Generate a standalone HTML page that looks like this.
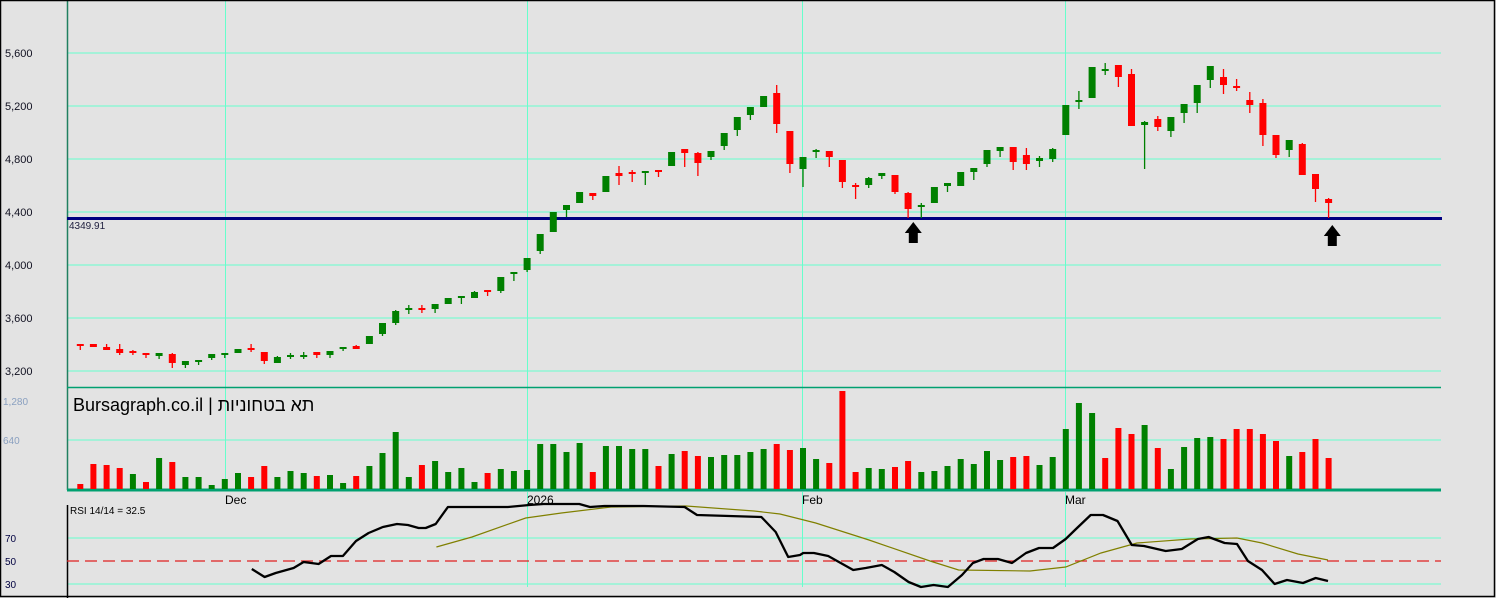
<!DOCTYPE html>
<html><head><meta charset="utf-8"><style>
html,body{margin:0;padding:0;background:#e3e3e3;}
svg{display:block;}
text{font-family:"Liberation Sans",Arial,sans-serif;}
</style></head><body>
<svg width="1496" height="598" viewBox="0 0 1496 598" xmlns="http://www.w3.org/2000/svg">
<rect x="0" y="0" width="1496" height="598" fill="#e3e3e3"/>
<!-- gridlines -->
<g stroke="#66ffcc" stroke-width="1">
<path d="M67 53H1441M67 106H1441M67 159H1441M67 212H1441M67 265H1441M67 318H1441M67 371H1441"/>
<path d="M67 440H1441M67 538H1441M67 584H1441"/>
<path d="M225.5 0V387M527.5 0V387M802.5 0V387M1065.5 0V387"/>
<path d="M225.5 387V489M527.5 387V489M802.5 387V489M1065.5 387V489"/>
<path d="M527.5 492V587M802.5 492V587M1065.5 492V587"/>
</g>
<!-- axes/borders -->
<path d="M67.5 0V490" stroke="#208060" stroke-width="1.5"/>
<path d="M67 387.5H1441" stroke="#00a070" stroke-width="1.5"/>
<path d="M67 490H1441" stroke="#00a070" stroke-width="3"/>
<path d="M67.5 505V598" stroke="#000" stroke-width="1.5"/>
<rect x="0.5" y="0.5" width="1494" height="596" fill="none" stroke="#000" stroke-width="1.5"/>
<!-- support line -->
<path d="M67 218.5H1442" stroke="#000080" stroke-width="3"/>
<text x="69" y="229" font-size="10" fill="#202040">4349.91</text>
<!-- price labels -->
<g font-size="11" fill="#101020">
<text x="5" y="57">5,600</text><text x="5" y="110">5,200</text><text x="5" y="163">4,800</text>
<text x="5" y="216">4,400</text><text x="5" y="269">4,000</text><text x="5" y="322">3,600</text><text x="5" y="375">3,200</text>
</g>
<!-- candles -->
<path stroke="#008000" stroke-width="1.3" fill="none" d="M159.1 353V359 M185.4 361V368 M198.6 360V365 M211.7 354V360 M224.8 353V358 M238 349V353 M277.4 356V363 M290.5 353V359 M303.7 352V359 M330 351V358 M343.1 347V351 M369.4 336V344 M382.5 323V336 M395.7 310V325 M408.8 305V314 M435.1 304V313 M448.2 298V304 M461.4 296V304 M474.5 291V298 M500.8 277V293 M513.9 272V281 M527.1 258V272 M540.2 234V254 M553.3 212V232 M566.5 205V217 M579.6 192V203 M605.9 176V192 M645.3 171V185 M671.6 152V166 M711 151V160 M724.2 133V150 M737.3 117V136 M750.4 107V120 M763.6 96V107 M803 157V187 M816.1 149V158 M868.7 177V188 M881.8 173V179 M921.3 203V218 M934.4 187V203 M947.5 183V192 M960.7 172V186 M973.8 168V180 M987 150V167 M1000.1 147V157 M1039.5 156V167 M1052.7 148V162 M1065.8 105V135 M1078.9 91V109 M1092.1 67V98 M1105.2 63V75 M1144.6 121V169 M1170.9 117V137 M1184.1 104V123 M1197.2 85V113 M1210.3 66V88 M1289.2 140V157"/>
<path fill="#008000" d="M155.6 353h7V356h-7zM181.9 361h7V365h-7zM195.1 360h7V362h-7zM208.2 354h7V358h-7zM221.3 353h7V355h-7zM234.5 349h7V353h-7zM273.9 357h7V363h-7zM287 355h7V357h-7zM300.2 355h7V357h-7zM326.5 351h7V355h-7zM339.6 347h7V349h-7zM365.9 336h7V344h-7zM379 323h7V334h-7zM392.2 311h7V323h-7zM405.3 308h7V310h-7zM431.6 304h7V309h-7zM444.7 298h7V304h-7zM457.9 296h7V298h-7zM471 292h7V298h-7zM497.3 277h7V291h-7zM510.4 272h7V274h-7zM523.6 258h7V270h-7zM536.7 234h7V251h-7zM549.8 212h7V232h-7zM563 205h7V210h-7zM576.1 192h7V203h-7zM602.4 176h7V192h-7zM641.8 171h7V173h-7zM668.1 152h7V166h-7zM707.5 151h7V157h-7zM720.7 133h7V146h-7zM733.8 117h7V130h-7zM746.9 107h7V115h-7zM760.1 96h7V107h-7zM799.5 157h7V169h-7zM812.6 150h7V152h-7zM865.2 178h7V185h-7zM878.3 173h7V176h-7zM917.8 205h7V207h-7zM930.9 187h7V203h-7zM944 183h7V186h-7zM957.2 172h7V186h-7zM970.3 168h7V172h-7zM983.5 150h7V164h-7zM996.6 147h7V151h-7zM1036 158h7V161h-7zM1049.2 149h7V159h-7zM1062.3 105h7V135h-7zM1075.4 100h7V102h-7zM1088.6 67h7V98h-7zM1101.7 69h7V71h-7zM1141.1 122h7V125h-7zM1167.4 117h7V131h-7zM1180.6 104h7V113h-7zM1193.7 85h7V103h-7zM1206.8 66h7V80h-7zM1285.7 140h7V150h-7z"/>
<path stroke="#ff0000" stroke-width="1.3" fill="none" d="M80.3 344V350 M93.4 344V347 M106.6 344V350 M119.7 344V355 M132.9 350V355 M146 353V358 M172.3 353V368 M251.1 344V352 M264.3 352V364 M316.8 352V358 M356.2 345V349 M421.9 305V313 M487.6 290V296 M592.8 193V200 M619 166V185 M632.2 170V182 M658.5 170V177 M684.7 149V167 M697.9 152V176 M776.7 85V133 M789.9 131V173 M829.3 151V167 M842.4 160V188 M855.6 183V199 M895 175V194 M908.1 192V218 M1013.2 147V170 M1026.4 148V170 M1118.4 65V87 M1131.5 69V126 M1157.8 116V131 M1223.5 69V94 M1236.6 79V91 M1249.8 92V113 M1262.9 99V146 M1276 135V158 M1302.3 143V175 M1315.5 174V202 M1328.6 198V218"/>
<path fill="#ff0000" d="M76.8 344h7V346h-7zM89.9 344h7V347h-7zM103.1 347h7V350h-7zM116.2 349h7V353h-7zM129.4 351h7V353h-7zM142.5 353h7V355h-7zM168.8 354h7V363h-7zM247.6 348h7V350h-7zM260.8 352h7V361h-7zM313.3 352h7V355h-7zM352.7 346h7V349h-7zM418.4 308h7V310h-7zM484.1 290h7V292h-7zM589.3 193h7V196h-7zM615.5 173h7V176h-7zM628.7 172h7V174h-7zM655 170h7V172h-7zM681.2 149h7V153h-7zM694.4 153h7V163h-7zM773.2 93h7V124h-7zM786.4 131h7V164h-7zM825.8 151h7V157h-7zM838.9 160h7V182h-7zM852.1 185h7V187h-7zM891.5 175h7V192h-7zM904.6 193h7V209h-7zM1009.7 147h7V162h-7zM1022.9 155h7V164h-7zM1114.9 65h7V77h-7zM1128 74h7V126h-7zM1154.3 119h7V127h-7zM1220 77h7V85h-7zM1233.1 86h7V88h-7zM1246.3 100h7V105h-7zM1259.4 103h7V135h-7zM1272.5 135h7V155h-7zM1298.8 144h7V175h-7zM1312 174h7V189h-7zM1325.1 199h7V203h-7z"/>
<!-- arrows -->
<path fill="#000" d="M913.3 222L921.8 233H917.8V243H908.8V233H904.8Z"/>
<path fill="#000" d="M1332.3 225L1340.8 236H1336.8V246H1327.8V236H1323.8Z"/>
<!-- volume -->
<g font-size="10" fill="#8aa0c0"><text x="3" y="405">1,280</text><text x="3" y="444">640</text></g>
<text x="73" y="411" font-size="18" fill="#000" font-family="Liberation Sans, Noto Sans CJK SC, sans-serif">Bursagraph.co.il | תא בטחוניות</text>
<path fill="#008000" d="M129.9 474h6V489h-6zM156.1 458h6V489h-6zM182.4 477h6V489h-6zM195.6 477h6V489h-6zM208.7 485h6V489h-6zM221.8 479h6V489h-6zM235 473h6V489h-6zM274.4 477h6V489h-6zM287.5 471h6V489h-6zM300.7 473h6V489h-6zM327 475h6V489h-6zM340.1 483h6V489h-6zM366.4 466h6V489h-6zM379.5 453h6V489h-6zM392.7 432h6V489h-6zM405.8 477h6V489h-6zM432.1 461h6V489h-6zM445.2 472h6V489h-6zM458.4 468h6V489h-6zM471.5 482h6V489h-6zM497.8 469h6V489h-6zM510.9 471h6V489h-6zM524.1 470h6V489h-6zM537.2 444h6V489h-6zM550.3 444h6V489h-6zM563.5 452h6V489h-6zM576.6 443h6V489h-6zM602.9 446h6V489h-6zM616 446h6V489h-6zM629.2 449h6V489h-6zM642.3 449h6V489h-6zM668.6 454h6V489h-6zM708 457h6V489h-6zM721.2 455h6V489h-6zM734.3 455h6V489h-6zM747.4 452h6V489h-6zM760.6 449h6V489h-6zM800 448h6V489h-6zM813.1 459h6V489h-6zM865.7 468h6V489h-6zM878.8 469h6V489h-6zM918.3 472h6V489h-6zM931.4 471h6V489h-6zM944.5 466h6V489h-6zM957.7 459h6V489h-6zM970.8 464h6V489h-6zM984 451h6V489h-6zM997.1 460h6V489h-6zM1036.5 465h6V489h-6zM1049.7 457h6V489h-6zM1062.8 429h6V489h-6zM1075.9 403h6V489h-6zM1089.1 413h6V489h-6zM1141.6 425h6V489h-6zM1167.9 469h6V489h-6zM1181.1 447h6V489h-6zM1194.2 438h6V489h-6zM1207.3 437h6V489h-6zM1286.2 456h6V489h-6z"/>
<path fill="#ff0000" d="M77.3 484h6V489h-6zM90.4 464h6V489h-6zM103.6 465h6V489h-6zM116.7 468h6V489h-6zM143 482h6V489h-6zM169.3 462h6V489h-6zM248.1 477h6V489h-6zM261.3 466h6V489h-6zM313.8 476h6V489h-6zM353.2 476h6V489h-6zM418.9 465h6V489h-6zM484.6 473h6V489h-6zM589.8 472h6V489h-6zM655.5 466h6V489h-6zM681.7 451h6V489h-6zM694.9 456h6V489h-6zM773.7 444h6V489h-6zM786.9 450h6V489h-6zM826.3 463h6V489h-6zM839.4 391h6V489h-6zM852.6 472h6V489h-6zM892 467h6V489h-6zM905.1 461h6V489h-6zM1010.2 457h6V489h-6zM1023.4 456h6V489h-6zM1102.2 458h6V489h-6zM1115.4 428h6V489h-6zM1128.5 434h6V489h-6zM1154.8 448h6V489h-6zM1220.5 439h6V489h-6zM1233.6 429h6V489h-6zM1246.8 429h6V489h-6zM1259.9 434h6V489h-6zM1273 441h6V489h-6zM1299.3 452h6V489h-6zM1312.5 439h6V489h-6zM1325.6 458h6V489h-6z"/>
<!-- month labels -->
<g font-size="12" fill="#000"><text x="225" y="504">Dec</text><text x="527" y="504">2026</text><text x="802" y="504">Feb</text><text x="1065" y="504">Mar</text></g>
<!-- RSI -->
<path d="M67 561H1441" stroke="#e02020" stroke-width="1.2" stroke-dasharray="12 6"/>
<text x="70" y="514" font-size="10" fill="#000">RSI 14/14 = 32.5</text>
<g font-size="10" fill="#000040"><text x="5" y="542">70</text><text x="5" y="565">50</text><text x="5" y="588">30</text></g>
<polyline fill="none" stroke="#808000" stroke-width="1.2" points="436.4,547 472,537 525.7,518 561.4,513 611,507 686,506 754,511 780,514 815.7,523 869,540 930,561 958.6,570 1030,571 1065.7,567 1101,553 1137,543 1190.7,539 1237,538 1262,543 1298,554 1328,560"/>
<polyline fill="none" stroke="#000" stroke-width="2.3" stroke-linejoin="round" points="251.8,569 264.6,577 275.7,573 293.6,568 303.6,562 318.6,564 331,556 342.9,556 356,541 368.6,533 382.9,527 397,524 407.9,525 418.6,528 425.7,528 435.7,524 447.9,507 507.9,507 529.3,505 543.6,504 579.3,504 590,507 604.3,506 643.6,506 684.6,507 697,515 761.4,517 775.7,532 788.2,557 800,555 803.2,553 813.9,553 828.2,556 840.7,563 853.2,570 865.7,568 881.8,565 894.3,572 908.6,582 921,587 933.6,585 947.9,587 962,575 972.9,563 983.6,559 997.9,559 1012,563 1026,553 1039,548 1053,548 1065.7,539 1076,529 1090.7,515 1103,515 1117.5,521 1131.8,545 1144,546 1165.7,551 1181.8,549 1197.9,539 1208.6,537 1224.6,543 1237,544 1247.9,561 1262,570 1274.6,584 1287,580 1303,583 1315.7,578 1328,581"/>
</svg>
</body></html>
